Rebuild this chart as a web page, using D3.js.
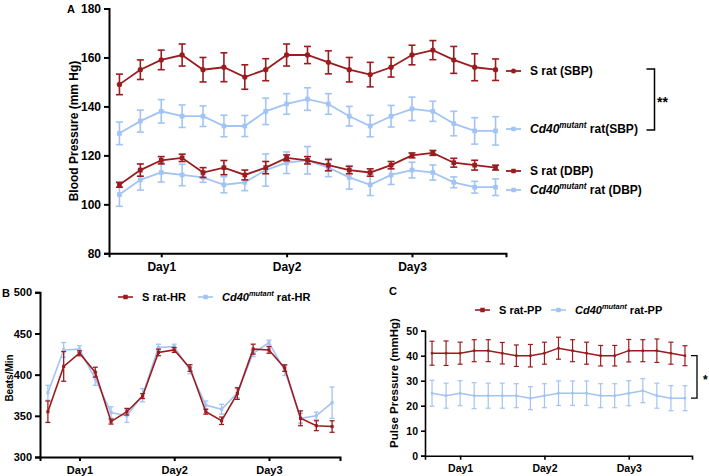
<!DOCTYPE html>
<html>
<head>
<meta charset="utf-8">
<script src="https://d3js.org/d3.v7.min.js"></script>
<style>
  body { margin: 0; background: #fff; }
  svg text { font-family: "Liberation Sans", Arial, sans-serif; font-weight: bold; fill: #000; }
  .axis path, .axis line { stroke: #000; }
</style>
</head>
<body>
<svg id="chart" width="709" height="476"></svg>
<script>
// ---- data ----
var dayLabels = ["Day1", "Day2", "Day3"];
var dayIndex = [2, 8, 14];

// panel A, blood pressure (mm Hg)
var sbpS    = [149,155,159,161,155,156,152,155,161,161,158,155,153,156,161,163,159,156,155];
var sbpSErr = [4.2,4,4,4.5,5,5.9,5,4.5,4.5,3.5,4.7,5,5,4,4,3.9,5.5,5.5,4.4];
var sbpM    = [129,134,138,136,136,132,132,138,141,143,141,136,132,136,139,138,133,130,130];
var sbpMErr = [4.6,4.5,4.8,4.6,4.2,4.4,4.3,5.4,4.2,4.6,4.2,4,4.4,4.4,4.8,4.1,5,5.4,5.8];
var dbpS    = [108,114,118,119,113,115,112,115,119,118,116,114,113,116,120,121,117,116,115];
var dbpSErr = [1,2.5,1.5,1.5,2,2.9,2,2.5,1.2,1.5,2.3,1.5,1.5,1.5,1,1,1.8,2,1];
var dbpM    = [104,110,113,112,111,108,109,114,117,118,115,111,108,112,114,113,109,107,107];
var dbpMErr = [4.8,4.2,3.9,4.4,2,3.3,3.4,6.6,4.4,5.6,3.7,4.8,4.4,3.9,3.2,3.1,2.2,2.4,3.4];

// panel B, heart rate (beats/min)
var hrS    = [355,410,426,403,343,355,374,427,430,408,355,344,377,431,430,408,347,338,337];
var hrSErr = [13,18,3,6,3,4,3,4,3,4,3,4.5,7,6,4,4,9,6,7];
var hrM    = [378,430,431,395,354,350,375,433,434,405,363,358,378,426,439,405,347,350,366];
var hrMErr = [9,9,4,8,7,8,8,4,3,4,5,6,6,4,3,6,6,4.5,19];

// panel C, pulse pressure (mmHg)
var ppS    = [41,41,41,42,42,41,40,40,41,43,42,41,40,40,42,42,42,41,40];
var ppSErr = [4.8,4.9,4.4,4.4,4.4,4.3,4.3,4.5,4.4,4.4,4.4,4.4,4.1,4.1,4.5,4.4,4.7,4.4,4];
var ppM    = [25,24,25,24,24,24,24,23,24,25,25,25,24,24,25,26,24,23,23];
var ppMErr = [5.2,5,5,5.2,5,5,4.8,4.6,4.8,4.9,4.9,4.9,4.8,4.8,5,4.8,5,5,5];

var red = "#9b1c1f", blue = "#a2c4f4";

var svg = d3.select("#chart");

function drawAxes(g, x, y, yTicks, tickSize, fontSize, stroke) {
  var xa = g.append("g").attr("class", "axis")
    .attr("transform", "translate(0," + y.range()[0] + ")")
    .call(d3.axisBottom(x).tickValues(dayIndex)
      .tickFormat(function(d, i) { return dayLabels[i]; })
      .tickSizeOuter(0).tickSize(4).tickPadding(5));
  var ya = g.append("g").attr("class", "axis")
    .attr("transform", "translate(" + x.range()[0] + ",0)")
    .call(d3.axisLeft(y).tickValues(yTicks).tickSizeOuter(0).tickSize(tickSize).tickPadding(3));
  [xa, ya].forEach(function(a) {
    a.select(".domain").attr("stroke-width", stroke);
    a.selectAll(".tick line").attr("stroke-width", stroke);
    a.selectAll("text").attr("font-size", fontSize);
  });
}

function drawSeries(g, x, y, vals, errs, color, marker, opt) {
  var data = vals.map(function(v, i) { return {i: i, v: v, e: errs[i]}; });
  var cap = opt.cap;
  var eb = g.append("g").attr("stroke", color).attr("stroke-width", opt.ew);
  eb.selectAll(".v").data(data).enter().append("line")
    .attr("x1", function(d) { return x(d.i); }).attr("x2", function(d) { return x(d.i); })
    .attr("y1", function(d) { return y(d.v + d.e); }).attr("y2", function(d) { return y(d.v - d.e); });
  eb.selectAll(".t").data(data).enter().append("line")
    .attr("x1", function(d) { return x(d.i) - cap; }).attr("x2", function(d) { return x(d.i) + cap; })
    .attr("y1", function(d) { return y(d.v + d.e); }).attr("y2", function(d) { return y(d.v + d.e); });
  eb.selectAll(".b").data(data).enter().append("line")
    .attr("x1", function(d) { return x(d.i) - cap; }).attr("x2", function(d) { return x(d.i) + cap; })
    .attr("y1", function(d) { return y(d.v - d.e); }).attr("y2", function(d) { return y(d.v - d.e); });
  g.append("path").datum(data)
    .attr("fill", "none").attr("stroke", color).attr("stroke-width", opt.lw)
    .attr("d", d3.line().x(function(d) { return x(d.i); }).y(function(d) { return y(d.v); }));
  var sym = d3.symbol().type(marker == "square" ? d3.symbolSquare : d3.symbolCircle).size(opt.ms);
  g.selectAll(null).data(data).enter().append("path")
    .attr("d", sym).attr("fill", color)
    .attr("transform", function(d) { return "translate(" + x(d.i) + "," + y(d.v) + ")"; });
}

function legendItem(g, lx, ly, color, marker, label, fs, lw) {
  g.append("line").attr("x1", lx).attr("x2", lx + 15).attr("y1", ly).attr("y2", ly)
    .attr("stroke", color).attr("stroke-width", lw);
  g.append("path").attr("d", d3.symbol().type(marker == "square" ? d3.symbolSquare : d3.symbolCircle).size(20))
    .attr("fill", color).attr("transform", "translate(" + (lx + 7.5) + "," + ly + ")");
  var t = g.append("text").attr("x", lx + 24).attr("y", ly + fs * 0.36).attr("font-size", fs);
  if (label.mutant) {
    t.append("tspan").attr("font-style", "italic").text("Cd40");
    t.append("tspan").attr("font-style", "italic").attr("font-size", fs * 0.68)
      .attr("dy", -fs * 0.42).text("mutant");
    t.append("tspan").attr("dy", fs * 0.42).text(label.text);
  } else {
    t.text(label.text);
  }
}

// ---------- Panel A ----------
var gA = svg.append("g");
var xA = d3.scaleLinear().domain([-0.5, 18.5]).range([109, 506]);
var yA = d3.scaleLinear().domain([80, 180]).range([253.3, 8.5]);
drawAxes(gA, xA, yA, [80, 100, 120, 140, 160, 180], 5, 12, 2);
var optA = {cap: 3.5, ew: 1.6, lw: 1.8, ms: 22};
drawSeries(gA, xA, yA, dbpM, dbpMErr, blue, "square", optA);
drawSeries(gA, xA, yA, dbpS, dbpSErr, red, "square", optA);
drawSeries(gA, xA, yA, sbpM, sbpMErr, blue, "square", optA);
drawSeries(gA, xA, yA, sbpS, sbpSErr, red, "circle", optA);
gA.append("text").attr("transform", "translate(78,131) rotate(-90)")
  .attr("text-anchor", "middle").attr("font-size", 12).text("Blood Pressure (mm Hg)");
gA.append("text").attr("x", 67).attr("y", 13).attr("font-size", 11).text("A");
legendItem(gA, 506, 71, red, "circle", {text: "S rat (SBP)"}, 12, 1.8);
legendItem(gA, 506, 129, blue, "square", {mutant: true, text: " rat(SBP)"}, 12, 1.8);
legendItem(gA, 506, 171, red, "square", {text: "S rat (DBP)"}, 12, 1.8);
legendItem(gA, 506, 190, blue, "square", {mutant: true, text: " rat (DBP)"}, 12, 1.8);
gA.append("path").attr("fill", "none").attr("stroke", "#000").attr("stroke-width", 1.5)
  .attr("d", "M646.5,69H654.5V130H646.5");
gA.append("text").attr("x", 657).attr("y", 107).attr("font-size", 14).text("**");

// ---------- Panel B ----------
var gB = svg.append("g");
var xB = d3.scaleLinear().domain([-0.5, 18.5]).range([40, 340]);
var yB = d3.scaleLinear().domain([300, 500]).range([457, 292.3]);
drawAxes(gB, xB, yB, [300, 350, 400, 450, 500], 5, 11, 2);
var optB = {cap: 2.5, ew: 1.3, lw: 1.6, ms: 10};
drawSeries(gB, xB, yB, hrM, hrMErr, blue, "square", optB);
drawSeries(gB, xB, yB, hrS, hrSErr, red, "square", optB);
gB.append("text").attr("transform", "translate(13,378) rotate(-90)")
  .attr("text-anchor", "middle").attr("font-size", 10).text("Beats/Min");
gB.append("text").attr("x", 2).attr("y", 297).attr("font-size", 11).text("B");
legendItem(gB, 118, 297, red, "square", {text: "S rat-HR"}, 11, 1.6);
legendItem(gB, 198, 297, blue, "square", {mutant: true, text: " rat-HR"}, 11, 1.6);

// ---------- Panel C ----------
var gC = svg.append("g");
var xC = d3.scaleLinear().domain([-0.5, 18.5]).range([425, 692]);
var yC = d3.scaleLinear().domain([0, 50]).range([455.7, 330.7]);
drawAxes(gC, xC, yC, [0, 10, 20, 30, 40, 50], 4, 10.5, 1.6);
var optC = {cap: 2.5, ew: 1.2, lw: 1.4, ms: 6};
drawSeries(gC, xC, yC, ppM, ppMErr, blue, "square", optC);
drawSeries(gC, xC, yC, ppS, ppSErr, red, "square", optC);
gC.append("text").attr("transform", "translate(398,383) rotate(-90)")
  .attr("text-anchor", "middle").attr("font-size", 11.5).text("Pulse Pressure (mmHg)");
gC.append("text").attr("x", 389).attr("y", 295).attr("font-size", 11).text("C");
legendItem(gC, 475, 310, red, "square", {text: "S rat-PP"}, 11, 1.6);
legendItem(gC, 551, 310, blue, "square", {mutant: true, text: " rat-PP"}, 11, 1.6);
gC.append("path").attr("fill", "none").attr("stroke", "#000").attr("stroke-width", 1.3)
  .attr("d", "M691," + yC(40) + "H697V" + yC(23) + "H691");
gC.append("text").attr("x", 703).attr("y", 384).attr("font-size", 12).text("*");
</script>
</body>
</html>
